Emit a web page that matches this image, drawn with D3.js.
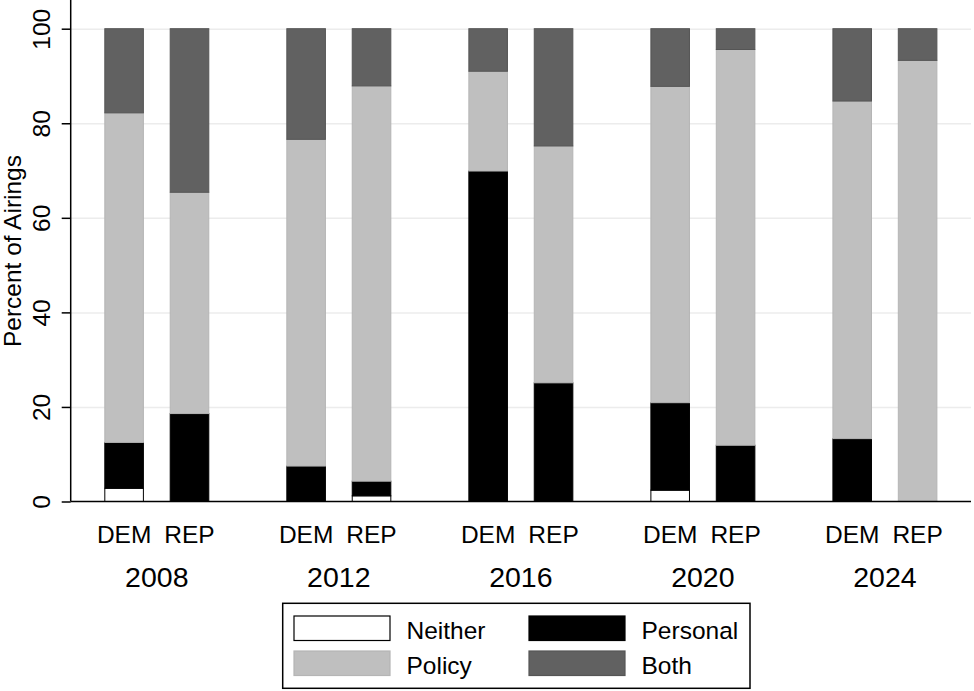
<!DOCTYPE html>
<html>
<head>
<meta charset="utf-8">
<script src="https://cdn.jsdelivr.net/npm/d3@7"></script>
<style>
  body { margin: 0; background: #fff; }
  svg { display: block; font-family: "Liberation Sans", Arial, sans-serif; }
</style>
</head>
<body>
<svg width="974" height="691"></svg>
<script>
// values, order: 2008 DEM, 2008 REP, 2012 DEM, ... 2024 REP
var years = ["2008", "2012", "2016", "2020", "2024"];
var parties = ["DEM", "REP"];
var neither  = [2.8, 0, 0, 1.2, 0, 0, 2.4, 0, 0, 0];
var personal = [9.7, 18.6, 7.5, 3.1, 69.9, 25.1, 18.5, 11.9, 13.3, 0];
var policy   = [69.7, 46.8, 69.1, 83.6, 21.1, 50.1, 66.9, 83.7, 71.4, 93.3];
var both     = [17.8, 34.6, 23.4, 12.1, 9.0, 24.8, 12.2, 4.4, 15.3, 6.7];
var yTicks = [0, 20, 40, 60, 80, 100];

var cats = ["Neither", "Personal", "Policy", "Both"];
var fills = {Neither: "#ffffff", Personal: "#000000", Policy: "#bfbfbf", Both: "#616161"};
var edges = {Neither: "#000000", Personal: "#000000", Policy: "#b5b5b5", Both: "#555555"};

var rows = [];
years.forEach(function(yr, i) {
  parties.forEach(function(p, j) {
    var k = i * 2 + j;
    rows.push({year: yr, party: p, Neither: neither[k], Personal: personal[k], Policy: policy[k], Both: both[k]});
  });
});

var svg = d3.select("svg"),
    left = 70.7, right = 971, bottom = 501.5, top = 3;

var x = d3.scalePoint().domain(years).range([left, right]).padding(0.473);
var xin = d3.scaleBand().domain(parties).range([-65.4, 65.4])
    .paddingInner(0.41).paddingOuter(0.205);
var y = d3.scaleLinear().domain([0, 100]).range([bottom, 28.7]);

// gridlines
svg.append("g")
    .attr("transform", "translate(" + left + ",0)")
    .call(d3.axisLeft(y).tickValues(yTicks.slice(1)).tickSize(-(right - left)).tickFormat(""))
    .call(function(g) {
      g.select(".domain").remove();
      g.selectAll("line").attr("stroke", "#ececec").attr("stroke-width", 1.5);
    });

var stack = d3.stack().keys(cats)(rows);

svg.append("g").selectAll("g")
    .data(stack)
    .enter().append("g")
    .attr("fill", function(d) { return fills[d.key]; })
    .attr("stroke", function(d) { return edges[d.key]; })
    .selectAll("rect")
    .data(function(d) { return d.filter(function(s) { return s[1] - s[0] > 0; }); })
    .enter().append("rect")
    .attr("x", function(d) { return x(d.data.year) + xin(d.data.party); })
    .attr("width", xin.bandwidth())
    .attr("y", function(d) { return y(d[1]); })
    .attr("height", function(d) { return y(d[0]) - y(d[1]); })
    .attr("stroke-width", 1);

// y axis
svg.append("g")
    .attr("transform", "translate(" + left + ",0)")
    .call(d3.axisLeft(y).tickValues(yTicks).tickSize(9).tickPadding(0))
    .call(function(g) {
      g.select(".domain").remove();
      g.selectAll("line").attr("stroke", "#000").attr("stroke-width", 1.5);
      g.selectAll("text")
        .attr("font-size", 24.5)
        .attr("fill", "#000")
        .attr("text-anchor", "middle")
        .attr("dy", null)
        .attr("x", null)
        .attr("transform", "translate(-21,0) rotate(-90)");
    });

svg.append("line")
    .attr("x1", left).attr("x2", left).attr("y1", top).attr("y2", bottom)
    .attr("stroke", "#000").attr("stroke-width", 1.5);
svg.append("line")
    .attr("x1", left).attr("x2", right).attr("y1", bottom).attr("y2", bottom)
    .attr("stroke", "#000").attr("stroke-width", 1.5);

svg.append("text")
    .attr("transform", "translate(21,251) rotate(-90)")
    .attr("text-anchor", "middle")
    .attr("font-size", 24.5)
    .text("Percent of Airings");

// party labels and year labels
years.forEach(function(yr) {
  svg.append("g")
      .attr("transform", "translate(" + x(yr) + "," + bottom + ")")
      .call(d3.axisBottom(xin).tickSize(0).tickPadding(0))
      .call(function(g) {
        g.select(".domain").remove();
        g.selectAll("text").attr("font-size", 24.5).attr("fill", "#000")
          .attr("dy", null).attr("y", 41.5);
      });
});

svg.append("g").selectAll("text")
    .data(years)
    .enter().append("text")
    .attr("x", function(d) { return x(d); })
    .attr("y", 586.5)
    .attr("text-anchor", "middle")
    .attr("font-size", 28.5)
    .text(function(d) { return d; });

// legend
var legend = svg.append("g");
legend.append("rect")
    .attr("x", 282.7).attr("y", 603.3).attr("width", 467.3).attr("height", 85)
    .attr("fill", "#fff").attr("stroke", "#000").attr("stroke-width", 1.5);

var legendItems = [
  {key: "Neither", col: 0, row: 0},
  {key: "Personal", col: 1, row: 0},
  {key: "Policy", col: 0, row: 1},
  {key: "Both", col: 1, row: 1}
];
var colX = [294, 529], rowY = [616, 651];

legend.selectAll(".sw")
    .data(legendItems)
    .enter().append("rect")
    .attr("x", function(d) { return colX[d.col]; })
    .attr("y", function(d) { return rowY[d.row]; })
    .attr("width", 96).attr("height", 24.5)
    .attr("fill", function(d) { return fills[d.key]; })
    .attr("stroke", function(d) { return edges[d.key]; })
    .attr("stroke-width", 1.2);

legend.selectAll(".lab")
    .data(legendItems)
    .enter().append("text")
    .attr("x", function(d) { return colX[d.col] + 112.5; })
    .attr("y", function(d) { return rowY[d.row] + 23; })
    .attr("font-size", 24.5)
    .text(function(d) { return d.key; });
</script>
</body>
</html>
